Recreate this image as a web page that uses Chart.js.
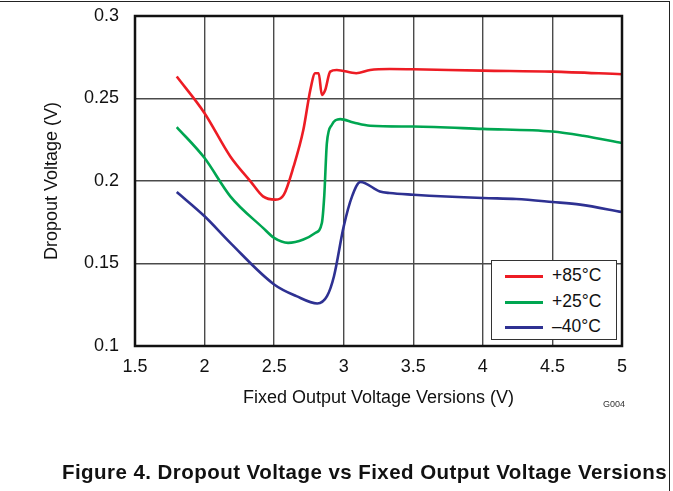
<!DOCTYPE html>
<html>
<head>
<meta charset="utf-8">
<script src="https://cdn.jsdelivr.net/npm/chart.js@4.4.0/dist/chart.umd.min.js"></script>
<style>
  html, body { margin: 0; padding: 0; background: #fff; }
  #wrap { position: relative; width: 673px; height: 491px; overflow: hidden; font-family: Arial, "Liberation Sans", sans-serif; }
  #chart { position: absolute; left: 0; top: 0; }
  #frame { position: absolute; left: 0; top: 1px; width: 669px; height: 500px; border-top: 1px solid #222; border-right: 1px solid #222; }
  #legend { position: absolute; left: 491px; top: 260px; width: 124px; height: 78px; border: 1px solid #333; background: #fff; }
  .row { position: absolute; left: 0; height: 20px; font-size: 17.5px; color: #111; }
  .row .ln { position: absolute; left: 13px; top: 9px; width: 38px; height: 3px; }
  .row .tx { position: absolute; left: 60px; top: -1px; white-space: nowrap; }
  #g004 { position: absolute; left: 603px; top: 399px; font-size: 9px; color: #333; }
  #caption { position: absolute; left: 0; width: 729px; text-align: center; top: 460px; font-size: 20.5px; letter-spacing: 0.45px; font-weight: bold; color: #111; white-space: nowrap; }
</style>
</head>
<body>
<div id="wrap">
  <canvas id="chart" width="673" height="491"></canvas>
  <div id="frame"></div>
  <div id="legend"></div>
  <div id="g004">G004</div>
  <div id="caption">Figure 4. Dropout Voltage vs Fixed Output Voltage Versions</div>
</div>
<script>
// Series data
const seriesNames = ['+85°C', '+25°C', '–40°C'];
const seriesColors = ['#ed1c24', '#00a651', '#2e3192'];

const hotX = [1.80, 2.0, 2.185, 2.33, 2.42, 2.51, 2.57, 2.64, 2.71, 2.76, 2.795, 2.82, 2.843, 2.867, 2.903, 2.95, 3.09, 3.19, 3.33, 3.5, 4.0, 4.5, 5.0];
const hotY = [0.2633, 0.2411, 0.2149, 0.1998, 0.1907, 0.1887, 0.1917, 0.2088, 0.2310, 0.2552, 0.2653, 0.2653, 0.2522, 0.2552, 0.2663, 0.2673, 0.2653, 0.2673, 0.2679, 0.2677, 0.2669, 0.2663, 0.2647];

const roomX = [1.80, 2.0, 2.185, 2.42, 2.50, 2.60, 2.71, 2.795, 2.843, 2.86, 2.879, 2.915, 2.975, 3.07, 3.19, 3.5, 4.0, 4.5, 4.72, 5.0];
const roomY = [0.2327, 0.2139, 0.1907, 0.1716, 0.1655, 0.1625, 0.1645, 0.1685, 0.1746, 0.1907, 0.2230, 0.2341, 0.2375, 0.2355, 0.2335, 0.2330, 0.2316, 0.2300, 0.2274, 0.2230];

const coldX = [1.80, 2.0, 2.185, 2.50, 2.66, 2.81, 2.88, 2.93, 3.0, 3.06, 3.12, 3.26, 3.33, 3.5, 4.0, 4.24, 4.5, 4.7, 5.0];
const coldY = [0.1933, 0.1786, 0.1625, 0.1373, 0.1302, 0.1258, 0.1302, 0.1423, 0.1725, 0.1907, 0.1994, 0.1937, 0.1927, 0.1917, 0.1897, 0.1891, 0.1873, 0.1857, 0.1812];

const xTicks = [1.5, 2, 2.5, 3, 3.5, 4, 4.5, 5];
const yTicks = [0.1, 0.15, 0.2, 0.25, 0.3];

function toPoints(xs, ys) {
  return xs.map((x, i) => ({ x: x, y: ys[i] }));
}

const allX = [hotX, roomX, coldX];
const allY = [hotY, roomY, coldY];

// Plot frame (all four sides)
const framePlugin = {
  id: 'framePlugin',
  afterDatasetsDraw(chart) {
    const a = chart.chartArea;
    const ctx = chart.ctx;
    ctx.save();
    ctx.strokeStyle = '#111';
    ctx.lineWidth = 2.5;
    ctx.strokeRect(a.left, a.top, a.right - a.left, a.bottom - a.top);
    ctx.restore();
  }
};

const tickFont = { family: 'Arial, "Liberation Sans", sans-serif', size: 18 };

new Chart(document.getElementById('chart').getContext('2d'), {
  type: 'line',
  data: {
    datasets: seriesNames.map((name, i) => ({
      label: name,
      data: toPoints(allX[i], allY[i]),
      borderColor: seriesColors[i],
      backgroundColor: seriesColors[i],
      borderWidth: 2.6,
      pointRadius: 0,
      cubicInterpolationMode: 'monotone',
      fill: false
    }))
  },
  options: {
    responsive: false,
    animation: false,
    layout: { padding: { left: 0, top: 16, right: 51, bottom: 81 } },
    plugins: {
      legend: { display: false },
      tooltip: { enabled: false }
    },
    scales: {
      x: {
        type: 'linear',
        min: 1.5,
        max: 5,
        afterFit: s => { s.height = 64; s.paddingLeft = 0; s.paddingRight = 0; },
        afterBuildTicks: s => { s.ticks = xTicks.map(v => ({ value: v })); },
        grid: { color: '#4a4a4a', lineWidth: 1.4, drawTicks: false },
        border: { display: false },
        ticks: { color: '#111', font: tickFont, padding: 10, maxRotation: 0, callback: v => String(v) },
        title: { display: true, text: 'Fixed Output Voltage Versions (V)', color: '#111', font: tickFont, padding: { top: 4, bottom: 1 } }
      },
      y: {
        type: 'linear',
        min: 0.1,
        max: 0.3,
        afterFit: s => { s.width = 135; s.paddingTop = 0; s.paddingBottom = 0; },
        afterBuildTicks: s => { s.ticks = yTicks.map(v => ({ value: v })); },
        grid: { color: '#4a4a4a', lineWidth: 1.4, drawTicks: false },
        border: { display: false },
        ticks: { color: '#111', font: tickFont, padding: 16, callback: v => String(Math.round(v * 100) / 100) },
        title: { display: true, text: 'Dropout Voltage (V)', color: '#111', font: tickFont, padding: { top: 41.7, bottom: 0 } }
      }
    }
  },
  plugins: [framePlugin]
});

// Legend box as HTML
const legend = document.getElementById('legend');
seriesNames.forEach((name, i) => {
  const row = document.createElement('div');
  row.className = 'row';
  row.style.top = (5 + i * 25.5) + 'px';
  row.innerHTML = '<span class="ln" style="background:' + seriesColors[i] + '"></span><span class="tx">' + name + '</span>';
  legend.appendChild(row);
});
</script>
</body>
</html>
